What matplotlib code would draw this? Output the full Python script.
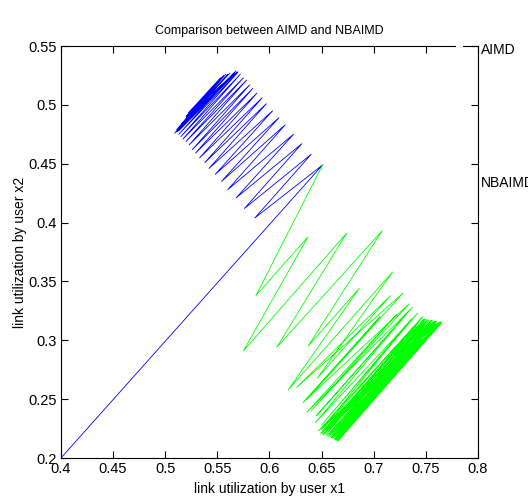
import matplotlib
matplotlib.use("Agg")
import matplotlib.pyplot as plt
from matplotlib.lines import Line2D

plt.rcParams['font.family'] = ['Liberation Sans', 'DejaVu Sans']

# AIMD trajectory: start point, then alternating peaks / troughs
aimd_start = (0.40, 0.20)
aimd_peak_x = [0.651, 0.640, 0.631, 0.623, 0.615, 0.609, 0.603, 0.597, 0.593, 0.588,
               0.584, 0.581, 0.578, 0.575, 0.572, 0.570, 0.568, 0.566, 0.560, 0.556,
               0.558, 0.562, 0.564, 0.553, 0.569]
aimd_peak_y = [0.449, 0.458, 0.467, 0.475, 0.483, 0.489, 0.495, 0.501, 0.506, 0.510,
               0.514, 0.517, 0.521, 0.523, 0.526, 0.528, 0.529, 0.527, 0.526, 0.525,
               0.526, 0.527, 0.525, 0.523, 0.528]
aimd_trough_x = [0.586, 0.576, 0.568, 0.560, 0.554, 0.548, 0.542, 0.538, 0.533, 0.529,
                 0.526, 0.523, 0.520, 0.517, 0.515, 0.513, 0.511, 0.509, 0.516, 0.520,
                 0.514, 0.518, 0.511, 0.522, 0.513]
aimd_trough_y = [0.404, 0.412, 0.421, 0.428, 0.435, 0.441, 0.446, 0.451, 0.455, 0.459,
                 0.462, 0.466, 0.469, 0.471, 0.473, 0.475, 0.477, 0.476, 0.484, 0.490,
                 0.481, 0.486, 0.479, 0.493, 0.478]

# NBAIMD trajectory, starting from the AIMD apex
nb_peak_x = [0.651, 0.637, 0.674, 0.708, 0.686, 0.718, 0.716, 0.728, 0.706, 0.734,
             0.722, 0.737, 0.730, 0.742, 0.736, 0.747, 0.743, 0.752, 0.749, 0.756,
             0.755, 0.760, 0.760, 0.764, 0.762, 0.765,
             0.750, 0.758, 0.746, 0.762, 0.753, 0.765, 0.748, 0.757, 0.763, 0.751,
             0.760, 0.755, 0.764, 0.749, 0.759]
nb_peak_y = [0.449, 0.388, 0.391, 0.393, 0.344, 0.358, 0.338, 0.340, 0.320, 0.331,
             0.322, 0.328, 0.321, 0.323, 0.318, 0.320, 0.316, 0.318, 0.314, 0.317,
             0.314, 0.316, 0.314, 0.316, 0.313, 0.315,
             0.318, 0.316, 0.319, 0.315, 0.317, 0.315, 0.318, 0.316, 0.315, 0.317,
             0.316, 0.317, 0.315, 0.318, 0.316]
nb_trough_x = [0.587, 0.575, 0.607, 0.637, 0.618, 0.646, 0.626, 0.636, 0.632, 0.640,
               0.636, 0.645, 0.644, 0.650, 0.650, 0.655, 0.654, 0.658, 0.660, 0.661,
               0.663, 0.663, 0.665, 0.664, 0.666, 0.663,
               0.652, 0.660, 0.647, 0.663, 0.655, 0.665, 0.649, 0.658, 0.662, 0.651,
               0.661, 0.656, 0.664, 0.650, 0.659]
nb_trough_y = [0.338, 0.291, 0.294, 0.295, 0.258, 0.268, 0.260, 0.250, 0.247, 0.240,
               0.239, 0.236, 0.230, 0.228, 0.224, 0.224, 0.220, 0.220, 0.218, 0.218,
               0.216, 0.216, 0.215, 0.216, 0.215, 0.217,
               0.220, 0.217, 0.223, 0.216, 0.219, 0.215, 0.221, 0.218, 0.216, 0.220,
               0.217, 0.218, 0.215, 0.221, 0.217]

x_ticks = [0.4, 0.45, 0.5, 0.55, 0.6, 0.65, 0.7, 0.75, 0.8]
y_ticks = [0.2, 0.25, 0.3, 0.35, 0.4, 0.45, 0.5, 0.55]


def zigzag(peak_x, peak_y, trough_x, trough_y, start=None):
    "walk peak -> trough -> peak ... and return the x / y lists"
    xs, ys = [], []
    if start is not None:
        xs.append(start[0])
        ys.append(start[1])
    for px, py, tx, ty in zip(peak_x, peak_y, trough_x, trough_y):
        xs += [px, tx]
        ys += [py, ty]
    return xs, ys


fig = plt.figure(figsize=(5.28, 4.98), dpi=100)
ax = fig.add_axes([0.1155, 0.0803, 0.7898, 0.8273])

ax_x, ax_y = zigzag(aimd_peak_x, aimd_peak_y, aimd_trough_x, aimd_trough_y, aimd_start)
nb_x, nb_y = zigzag(nb_peak_x, nb_peak_y, nb_trough_x, nb_trough_y)

ax.plot(ax_x, ax_y, color='#0000ff', lw=0.6)
ax.plot(nb_x, nb_y, color='#00ff00', lw=0.6)

ax.set_xlim(0.4, 0.8)
ax.set_ylim(0.2, 0.55)
ax.set_xticks(x_ticks)
ax.set_yticks(y_ticks)
ax.set_xticklabels([f"{t:g}" for t in x_ticks])
ax.set_yticklabels([f"{t:g}" for t in y_ticks])
ax.tick_params(direction='in', top=True, right=True, length=5, width=0.8,
               labelsize=10.5, pad=3)
for s in ax.spines.values():
    s.set_linewidth(0.8)

ax.set_title("Comparison between AIMD and NBAIMD", fontsize=9, pad=9)
ax.set_xlabel("link utilization by user x1", fontsize=10, labelpad=4)
ax.set_ylabel("link utilization by user x2", fontsize=10, labelpad=1)

# legend remnants sticking out on the right
fig.add_artist(Line2D([457 / 528, 462 / 528], [1 - 46 / 498] * 2, color='white', lw=1.5))
fig.text(481 / 528, 1 - 50 / 498, "AIMD", fontsize=10, va='center', ha='left')
fig.text(481 / 528, 1 - 183 / 498, "NBAIMD", fontsize=10, va='center', ha='left')

fig.savefig("out.png", dpi=100)
